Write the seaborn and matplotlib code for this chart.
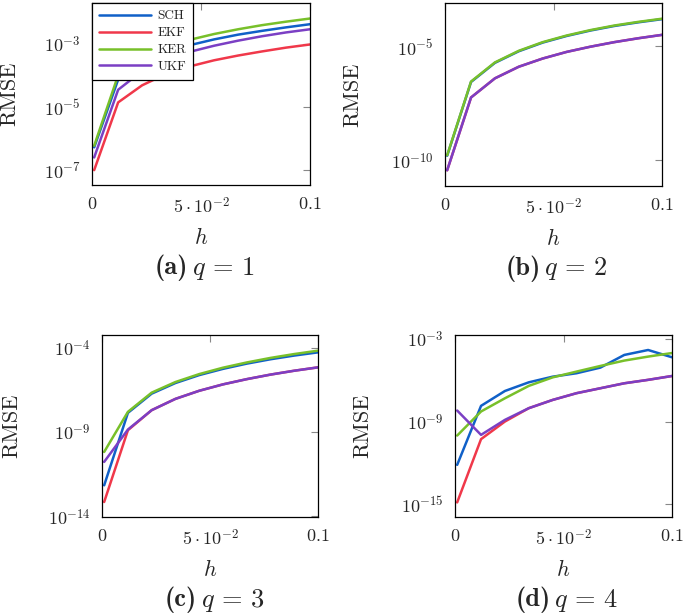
import numpy as np
import pandas as pd
import matplotlib
matplotlib.use("Agg")
import matplotlib.pyplot as plt
import seaborn as sns
from matplotlib.ticker import FixedLocator, FixedFormatter, NullLocator

sns.set_style("white")
plt.rcParams['font.family'] = ['cmr10', 'DejaVu Serif']
plt.rcParams['mathtext.fontset'] = 'cm'
plt.rcParams['axes.unicode_minus'] = False

methods = ["SCH", "EKF", "KER", "UKF"]
colors = ["#1060C8", "#F0384A", "#78C02A", "#7B3FC4"]

h = [0.001, 0.012, 0.023, 0.034, 0.045, 0.056, 0.067, 0.078, 0.089, 0.1]

# log10(RMSE)
a_SCH = [-6.28, -4.14, -3.60, -3.28, -3.05, -2.87, -2.72, -2.60, -2.49, -2.39]
a_EKF = [-7.00, -4.86, -4.32, -3.96, -3.72, -3.53, -3.38, -3.25, -3.13, -3.03]
a_KER = [-6.23, -4.00, -3.45, -3.12, -2.88, -2.70, -2.55, -2.42, -2.31, -2.21]
a_UKF = [-6.60, -4.46, -3.87, -3.51, -3.26, -3.07, -2.91, -2.77, -2.65, -2.55]

b_SCH = [-9.80, -6.56, -5.72, -5.21, -4.83, -4.54, -4.30, -4.10, -3.94, -3.80]
b_EKF = [-10.44, -7.24, -6.40, -5.89, -5.53, -5.24, -5.01, -4.81, -4.64, -4.49]
b_KER = [-9.78, -6.54, -5.70, -5.19, -4.81, -4.52, -4.28, -4.08, -3.92, -3.78]
b_UKF = [-10.44, -7.24, -6.40, -5.89, -5.53, -5.24, -5.01, -4.81, -4.64, -4.49]

c_SCH = [-12.17, -7.87, -6.73, -6.10, -5.63, -5.26, -4.95, -4.69, -4.47, -4.28]
c_EKF = [-13.16, -8.90, -7.71, -7.04, -6.56, -6.18, -5.87, -5.60, -5.37, -5.17]
c_KER = [-10.19, -7.81, -6.67, -6.04, -5.57, -5.19, -4.88, -4.61, -4.38, -4.18]
c_UKF = [-10.78, -8.86, -7.71, -7.04, -6.56, -6.18, -5.87, -5.60, -5.37, -5.17]

d_SCH = [-12.15, -7.86, -6.78, -6.15, -5.74, -5.49, -5.08, -4.16, -3.80, -4.33]
d_EKF = [-14.88, -10.28, -9.00, -8.03, -7.43, -6.94, -6.58, -6.22, -5.97, -5.69]
d_KER = [-10.02, -8.27, -7.31, -6.41, -5.79, -5.37, -4.96, -4.57, -4.28, -4.02]
d_UKF = [-8.20, -9.97, -8.88, -8.03, -7.43, -6.94, -6.58, -6.22, -5.97, -5.69]

panels = [
    dict(data=[a_SCH, a_EKF, a_KER, a_UKF], ylim=(-7.47, -1.72), yt=[-7, -5, -3],
         rect=[92, 3, 310, 185], ylab_dx=82, tag="(a)", q="$q\\,=\\,1$", legend=True),
    dict(data=[b_SCH, b_EKF, b_KER, b_UKF], ylim=(-11.13, -3.09), yt=[-10, -5],
         rect=[445, 3, 662, 186], ylab_dx=92, tag="(b)", q="$q\\,=\\,2$", legend=False),
    dict(data=[c_SCH, c_EKF, c_KER, c_UKF], ylim=(-14.05, -3.25), yt=[-14, -9, -4],
         rect=[102, 335, 318, 517], ylab_dx=90, tag="(c)", q="$q\\,=\\,3$", legend=False),
    dict(data=[d_SCH, d_EKF, d_KER, d_UKF], ylim=(-15.94, -2.71), yt=[-15, -9, -3],
         rect=[455, 335, 672, 517], ylab_dx=92, tag="(d)", q="$q\\,=\\,4$", legend=False),
]

W, H = 685, 615
fig = plt.figure(figsize=(W / 100, H / 100), dpi=100)

for p in panels:
    x0, y0, x1, y1 = p["rect"]
    aw, ah = x1 - x0, y1 - y0
    ax = fig.add_axes([x0 / W, 1 - y1 / H, aw / W, ah / H])
    rows = []
    for m, vals in zip(methods, p["data"]):
        for hv, lv in zip(h, vals):
            rows.append(dict(h=hv, RMSE=10.0 ** lv, method=m))
    df = pd.DataFrame(rows)
    sns.lineplot(data=df, x="h", y="RMSE", hue="method", hue_order=methods,
                 palette=colors, linewidth=1.8, sort=False, estimator=None,
                 ax=ax, legend=p["legend"])
    ax.set_yscale("log")
    ax.set_xlim(0, 0.1)
    ax.set_ylim(10 ** p["ylim"][0], 10 ** p["ylim"][1])
    ax.xaxis.set_major_locator(FixedLocator([0, 0.05, 0.1]))
    ax.xaxis.set_major_formatter(FixedFormatter(["$0$", r"$5\cdot10^{-2}$", "$0.1$"]))
    ax.yaxis.set_major_locator(FixedLocator([10.0 ** t for t in p["yt"]]))
    ax.yaxis.set_major_formatter(FixedFormatter(["$10^{%d}$" % t for t in p["yt"]]))
    ax.yaxis.set_minor_locator(NullLocator())
    ax.xaxis.set_minor_locator(NullLocator())
    ax.tick_params(axis="both", which="major", direction="in", length=5, width=0.8,
                   color="#888888", labelsize=13, top=True, right=True, pad=8)
    for s in ax.spines.values():
        s.set_color("black")
        s.set_linewidth(0.9)
    ax.set_xlabel("$h$", fontsize=16)
    ax.xaxis.set_label_coords(0.5, -52 / ah)
    ax.xaxis.label.set_va("center")
    ax.set_ylabel("RMSE", fontsize=16)
    ax.yaxis.set_label_coords(-p["ylab_dx"] / aw, 0.5)
    ax.yaxis.label.set_va("center")
    cx = (x0 + x1) / 2 + 4
    cy = 1 - (y1 + 83) / H
    fig.text((cx - 17) / W, cy, p["tag"], ha="right", va="center", fontsize=19,
             family="cmb10")
    fig.text((cx - 13) / W, cy, p["q"], ha="left", va="center", fontsize=19)
    if p["legend"]:
        leg = ax.legend(loc="upper left", bbox_to_anchor=(0, 1.0), borderaxespad=0,
                        frameon=True, fancybox=False, fontsize=9.5, handlelength=3.9,
                        labelspacing=0.35, borderpad=0.55, handletextpad=0.5)
        leg.get_frame().set_edgecolor("black")
        leg.get_frame().set_linewidth(0.9)
        leg.get_frame().set_alpha(1)

fig.savefig("out.png", dpi=100)
